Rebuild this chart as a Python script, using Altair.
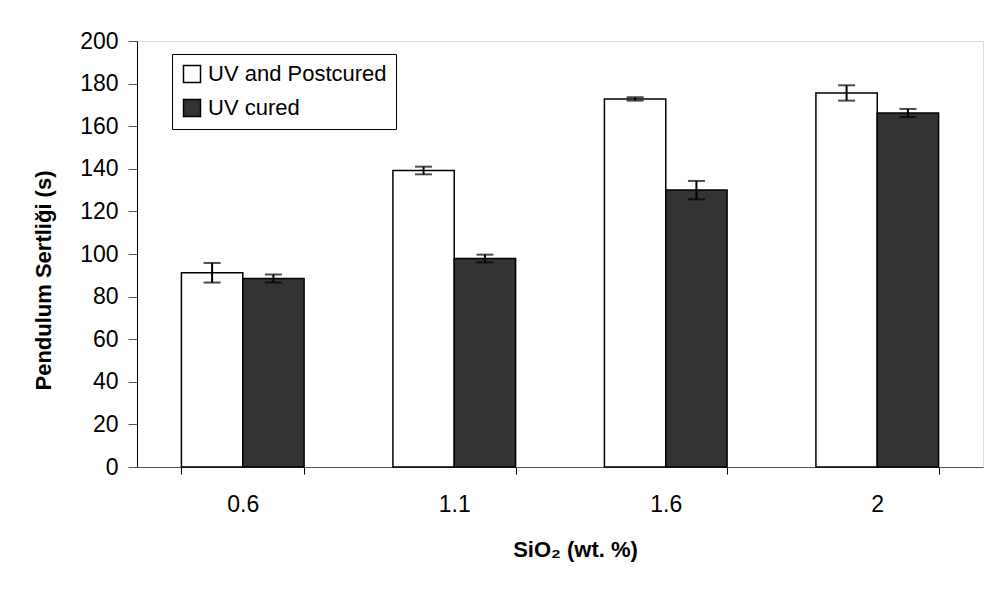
import altair as alt
import pandas as pd

categories = ["0.6", "1.1", "1.6", "2"]
series = ["UV and Postcured", "UV cured"]
postcured = [91.2, 139.2, 172.8, 175.6]
postcured_err = [4.6, 1.8, 0.8, 3.6]
uvcured = [88.5, 97.9, 130.0, 166.2]
uvcured_err = [1.9, 1.8, 4.3, 1.9]
y_ticks = [0, 20, 40, 60, 80, 100, 120, 140, 160, 180, 200]
fill_colors = ["#ffffff", "#333333"]

rows = []
for s, vals, errs in [(series[0], postcured, postcured_err), (series[1], uvcured, uvcured_err)]:
    for c, v, e in zip(categories, vals, errs):
        rows.append({"cat": c, "series": s, "value": v, "lo": v - e, "hi": v + e})
df = pd.DataFrame(rows)

FONT = "Liberation Sans"

x_enc = alt.X(
    "cat:N",
    sort=categories,
    scale=alt.Scale(paddingInner=0.42, paddingOuter=0.21),
    axis=alt.Axis(
        title="SiO₂ (wt. %)",
        labelAngle=0,
        tickBand="extent",
        tickSize=7,
        tickColor="#000000",
        domainColor="#555555",
        labelPadding=19,
        labelFontSize=23,
        labelColor="#000000",
        labelFont=FONT,
        titleFont=FONT,
        titleFontSize=22,
        titleFontWeight="bold",
        titleColor="#000000",
        titleBaseline="alphabetic",
        titleX=438,
        titleY=89,
    ),
)
xoff = alt.XOffset("series:N", sort=series, scale=alt.Scale(domain=series))

y_scale = alt.Scale(domain=[0, 200], nice=False)
y_enc = alt.Y(
    "value:Q",
    scale=y_scale,
    axis=alt.Axis(
        title="Pendulum Sertliği (s)",
        values=y_ticks,
        grid=False,
        tickSize=9,
        tickColor="#555555",
        domainColor="#000000",
        labelPadding=10,
        labelFontSize=23,
        labelColor="#000000",
        labelFont=FONT,
        titleFont=FONT,
        titleFontSize=22,
        titleFontWeight="bold",
        titleColor="#000000",
        titleBaseline="alphabetic",
        titleAngle=-90,
        titleX=-87,
        titleY=239,
    ),
)

bars = alt.Chart(df).mark_bar(stroke="#000000", strokeWidth=1.5).encode(
    x=x_enc,
    xOffset=xoff,
    y=y_enc,
    fill=alt.Fill(
        "series:N",
        sort=series,
        scale=alt.Scale(domain=series, range=fill_colors),
        legend=alt.Legend(
            title=None,
            orient="none",
            legendX=35,
            legendY=13,
            strokeColor="#000000",
            fillColor="#ffffff",
            padding=9,
            symbolType="square",
            symbolSize=289,
            symbolStrokeColor="#000000",
            symbolStrokeWidth=1.5,
            labelFontSize=22,
            labelFont=FONT,
            labelColor="#000000",
            labelOffset=5,
            labelLimit=400,
            rowPadding=10,
        ),
    ),
)

rules = alt.Chart(df).mark_rule(color="#000000", strokeWidth=2).encode(
    x=alt.X("cat:N", sort=categories),
    xOffset=xoff,
    y=alt.Y("lo:Q", scale=y_scale),
    y2="hi:Q",
)

caps_hi = alt.Chart(df).mark_tick(color="#000000", thickness=2, size=17, orient="horizontal").encode(
    x=alt.X("cat:N", sort=categories),
    xOffset=xoff,
    y=alt.Y("hi:Q", scale=y_scale),
)
caps_lo = alt.Chart(df).mark_tick(color="#000000", thickness=2, size=17, orient="horizontal").encode(
    x=alt.X("cat:N", sort=categories),
    xOffset=xoff,
    y=alt.Y("lo:Q", scale=y_scale),
)

chart = (
    alt.layer(bars, rules, caps_hi, caps_lo)
    .properties(
        width=846,
        height=426,
        autosize=alt.AutoSizeParams(type="none"),
        padding={"left": 129, "top": 33, "right": 1, "bottom": 118},
    )
    .configure_view(stroke=None)
    .configure(font=FONT, background="#ffffff")
)

chart.save("out.html", embed_options={"renderer": "svg", "actions": False})
